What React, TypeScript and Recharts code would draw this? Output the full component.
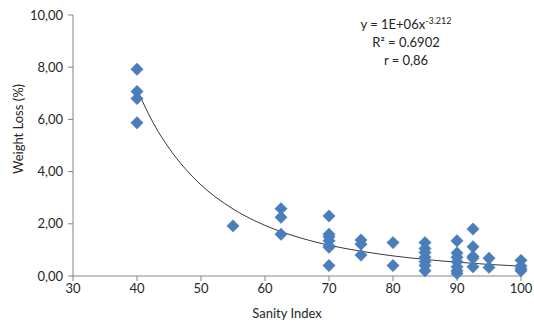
import React from 'react';
import { ComposedChart, Scatter, Line, XAxis, YAxis } from 'recharts';

const sanityIndex = [
  40, 40, 40, 40,
  55,
  62.5, 62.5, 62.5,
  70, 70, 70, 70, 70, 70, 70,
  75, 75, 75,
  80, 80,
  85, 85, 85, 85, 85, 85, 85,
  90, 90, 90, 90, 90, 90, 90,
  92.5, 92.5, 92.5, 92.5, 92.5,
  95, 95,
  100, 100, 100, 100,
];
const weightLoss = [
  7.92, 7.07, 6.8, 5.87,
  1.92,
  2.58, 2.25, 1.6,
  2.3, 1.6, 1.5, 1.35, 1.15, 1.1, 0.4,
  1.38, 1.22, 0.8,
  1.28, 0.4,
  1.28, 1.05, 0.9, 0.72, 0.55, 0.4, 0.2,
  1.35, 0.88, 0.72, 0.55, 0.35, 0.2, 0.1,
  1.8, 1.12, 0.75, 0.68, 0.35,
  0.68, 0.33,
  0.6, 0.38, 0.28, 0.2,
];

const trendX = [40, 42.5, 45, 47.5, 50, 55, 60, 65, 70, 75, 80, 85, 90, 95, 100];
const trendY = [7.15, 5.88, 4.9, 4.12, 3.49, 2.57, 1.94, 1.5, 1.18, 0.95, 0.77, 0.635, 0.53, 0.444, 0.377];

const xTicks = [30, 40, 50, 60, 70, 80, 90, 100];
const yTicks = [0, 2, 4, 6, 8, 10];

const points = sanityIndex.map((x, i) => ({ x, y: weightLoss[i] }));
const trend = trendX.map((x, i) => ({ x, t: trendY[i] }));

const FONT = 'Lato, "Open Sans", sans-serif';
const FS = 13;

const Diamond = (props: any) => {
  const { cx, cy } = props;
  const h = 6.2;
  return (
    <polygon
      points={`${cx},${cy - h} ${cx + h},${cy} ${cx},${cy + h} ${cx - h},${cy}`}
      fill="#4A7EBB"
      stroke="#4A7EBB"
      strokeWidth={0.5}
    />
  );
};

const fmt = (v: number) => v.toFixed(2).replace('.', ',');

export default function App() {
  return (
    <div style={{ position: 'absolute', left: 0, top: 0, width: 534, height: 324, background: '#fff' }}>
      <ComposedChart
        width={534}
        height={324}
        margin={{ top: 15, right: 13, bottom: 0, left: 0 }}
        style={{ fontFamily: FONT }}
      >
        <XAxis
          type="number"
          dataKey="x"
          domain={[30, 100]}
          ticks={xTicks}
          height={48}
          stroke="#868686"
          tickLine={{ stroke: '#868686' }}
          tickSize={5}
          tick={{ fill: '#262626', fontSize: FS, fontFamily: FONT }}
          tickMargin={3}
        />
        <YAxis
          type="number"
          domain={[0, 10]}
          ticks={yTicks}
          width={73}
          stroke="#868686"
          tickLine={{ stroke: '#868686' }}
          tickSize={5}
          tickFormatter={fmt}
          tick={{ fill: '#262626', fontSize: FS, fontFamily: FONT }}
          tickMargin={5}
        />
        <Line
          data={trend}
          dataKey="t"
          type="monotone"
          stroke="#3a3a3a"
          strokeWidth={1}
          dot={false}
          activeDot={false}
          isAnimationActive={false}
        />
        <Scatter data={points} dataKey="y" shape={<Diamond />} isAnimationActive={false} />
        <text x={287} y={318} textAnchor="middle" style={{ fontFamily: FONT, fontSize: FS, fill: '#262626' }}>
          Sanity Index
        </text>
        <text x={23} y={129} textAnchor="middle" transform="rotate(-90 23 129)" style={{ fontFamily: FONT, fontSize: FS, fill: '#262626' }}>
          Weight Loss (%)
        </text>
        <text x={406} y={29} textAnchor="middle" style={{ fontFamily: FONT, fontSize: FS, fill: '#222' }}>
          y = 1E+06x<tspan dy={-5} fontSize={9}>-3.212</tspan>
        </text>
        <text x={406} y={47} textAnchor="middle" style={{ fontFamily: FONT, fontSize: FS, fill: '#222' }}>
          R² = 0.6902
        </text>
        <text x={406} y={65} textAnchor="middle" style={{ fontFamily: FONT, fontSize: FS, fill: '#222' }}>
          r = 0,86
        </text>
      </ComposedChart>
    </div>
  );
}
